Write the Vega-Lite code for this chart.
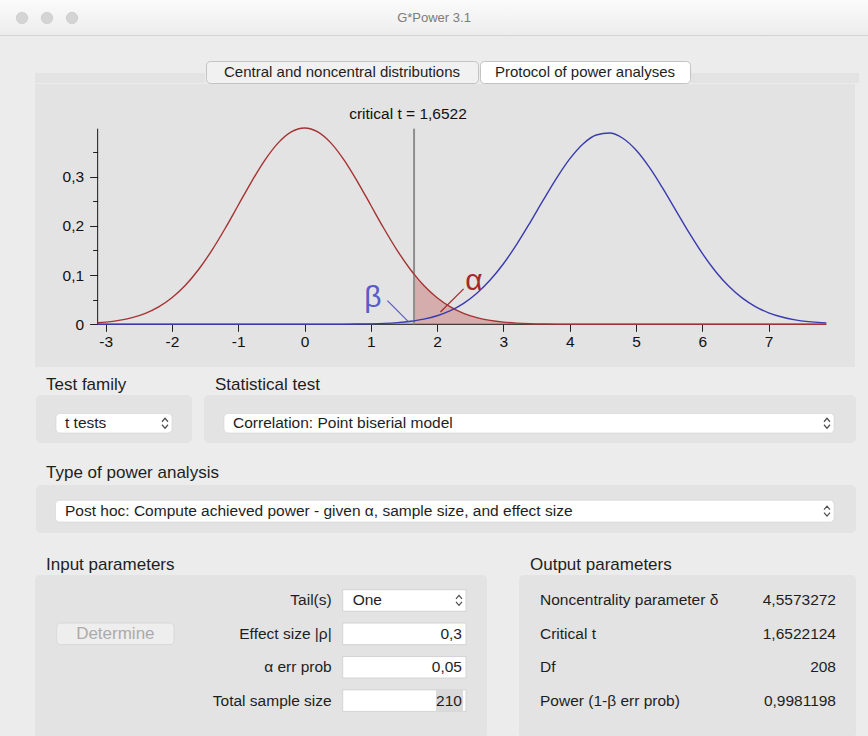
{
  "$schema": "https://vega.github.io/schema/vega-lite/v6.json",
  "background": "#ececec",
  "padding": 0,
  "spacing": 0,
  "config": {
    "view": {"stroke": null},
    "concat": {"spacing": 0},
    "font": "Liberation Sans",
    "text": {"font": "Liberation Sans"}
  },
  "datasets": {
    "curve": [
      {"x": -3.12, "h0": 0.00307, "h1": 0},
      {"x": -3.0, "h0": 0.00443, "h1": 0},
      {"x": -2.8, "h0": 0.00792, "h1": 0},
      {"x": -2.6, "h0": 0.01358, "h1": 0},
      {"x": -2.4, "h0": 0.02239, "h1": 0},
      {"x": -2.2, "h0": 0.03547, "h1": 0},
      {"x": -2.0, "h0": 0.05399, "h1": 0},
      {"x": -1.8, "h0": 0.07895, "h1": 0},
      {"x": -1.6, "h0": 0.11092, "h1": 0},
      {"x": -1.4, "h0": 0.14973, "h1": 0},
      {"x": -1.2, "h0": 0.19419, "h1": 0},
      {"x": -1.0, "h0": 0.24197, "h1": 0},
      {"x": -0.8, "h0": 0.28969, "h1": 0},
      {"x": -0.6, "h0": 0.33322, "h1": 0},
      {"x": -0.4, "h0": 0.36827, "h1": 0},
      {"x": -0.2, "h0": 0.39104, "h1": 0},
      {"x": 0.0, "h0": 0.39894, "h1": 0.00002},
      {"x": 0.2, "h0": 0.39104, "h1": 0.00005},
      {"x": 0.4, "h0": 0.36827, "h1": 0.00011},
      {"x": 0.6, "h0": 0.33322, "h1": 0.00024},
      {"x": 0.8, "h0": 0.28969, "h1": 0.00047},
      {"x": 1.0, "h0": 0.24197, "h1": 0.00095},
      {"x": 1.2, "h0": 0.19419, "h1": 0.00184},
      {"x": 1.4, "h0": 0.14973, "h1": 0.00341},
      {"x": 1.6, "h0": 0.11092, "h1": 0.0061},
      {"x": 1.6522, "h0": 0.1019, "h1": 0.00706},
      {"x": 1.8, "h0": 0.07895, "h1": 0.01051},
      {"x": 2.0, "h0": 0.05399, "h1": 0.01742},
      {"x": 2.2, "h0": 0.03547, "h1": 0.02777},
      {"x": 2.4, "h0": 0.02239, "h1": 0.04268},
      {"x": 2.6, "h0": 0.01358, "h1": 0.06313},
      {"x": 2.8, "h0": 0.00792, "h1": 0.08987},
      {"x": 3.0, "h0": 0.00443, "h1": 0.1231},
      {"x": 3.2, "h0": 0.00238, "h1": 0.1624},
      {"x": 3.4, "h0": 0.00123, "h1": 0.2063},
      {"x": 3.6, "h0": 0.00061, "h1": 0.2522},
      {"x": 3.8, "h0": 0.00029, "h1": 0.2967},
      {"x": 4.0, "h0": 0.00013, "h1": 0.3361},
      {"x": 4.2, "h0": 0.00006, "h1": 0.3666},
      {"x": 4.4, "h0": 0.00002, "h1": 0.3848},
      {"x": 4.6, "h0": 0, "h1": 0.3888},
      {"x": 4.8, "h0": 0, "h1": 0.3782},
      {"x": 5.0, "h0": 0, "h1": 0.3542},
      {"x": 5.2, "h0": 0, "h1": 0.3193},
      {"x": 5.4, "h0": 0, "h1": 0.2771},
      {"x": 5.6, "h0": 0, "h1": 0.2315},
      {"x": 5.8, "h0": 0, "h1": 0.1861},
      {"x": 6.0, "h0": 0, "h1": 0.1441},
      {"x": 6.2, "h0": 0, "h1": 0.1074},
      {"x": 6.4, "h0": 0, "h1": 0.0772},
      {"x": 6.6, "h0": 0, "h1": 0.0536},
      {"x": 6.8, "h0": 0, "h1": 0.036},
      {"x": 7.0, "h0": 0, "h1": 0.0234},
      {"x": 7.2, "h0": 0, "h1": 0.0148},
      {"x": 7.4, "h0": 0, "h1": 0.0091},
      {"x": 7.6, "h0": 0, "h1": 0.0055},
      {"x": 7.8, "h0": 0, "h1": 0.0033},
      {"x": 7.87, "h0": 0, "h1": 0.0028}
    ],
    "axes": [
      {"x": -3.12, "x2": 7.87, "y": 0, "y2": 0},
      {"x": -3.12, "x2": -3.12, "y": 0, "y2": 0.3976}
    ],
    "crit": [{"x": 1.6522, "y": 0, "y2": 0.3976}],
    "critLabel": [{"x": 1.561, "y": 0.4274, "label": "critical t = 1,6522"}],
    "leaders": [
      {"k": "alpha", "x": 2.05, "y": 0.025, "x2": 2.4, "y2": 0.072},
      {"k": "beta", "x": 1.25, "y": 0.048, "x2": 1.57, "y2": 0.005}
    ],
    "greek": [
      {"k": "alpha", "x": 2.557, "y": 0.088, "t": "α"},
      {"k": "beta", "x": 1.033, "y": 0.0535, "t": "β"}
    ],
    "inputs": [
      {"row": "Tail(s)", "val": "One"},
      {"row": "Effect size |ρ|", "val": "0,3"},
      {"row": "α err prob", "val": "0,05"},
      {"row": "Total sample size", "val": "210"}
    ],
    "outputs": [
      {"row": "Noncentrality parameter δ", "val": "4,5573272"},
      {"row": "Critical t", "val": "1,6522124"},
      {"row": "Df", "val": "208"},
      {"row": "Power (1-β err prob)", "val": "0,9981198"}
    ]
  },
  "vconcat": [
    {
      "width": 868,
      "height": 36,
      "view": {"stroke": null, "fill": {"gradient": "linear", "x1": 0, "y1": 0, "x2": 0, "y2": 1, "stops": [{"offset": 0, "color": "#fbfbfb"}, {"offset": 0.965, "color": "#ededed"}, {"offset": 0.97, "color": "#d2d2d2"}, {"offset": 1, "color": "#d2d2d2"}]}},
      "layer": [
        {
          "data": {"values": [{"title": "G*Power 3.1"}]},
          "mark": {"type": "text", "fontSize": 13, "color": "#7b7b7b"},
          "encoding": {"text": {"field": "title"}}
        },
        {
          "data": {"values": [{"n": 1}, {"n": 2}, {"n": 3}]},
          "mark": {"type": "point", "shape": "circle", "filled": true, "size": 133, "color": "#d4d4d4", "opacity": 1, "stroke": "#c6c6c6", "strokeWidth": 0.6},
          "encoding": {"x": {"field": "n", "type": "quantitative", "scale": {"domain": [0.12, 34.84], "nice": false, "zero": false}, "axis": null}}
        }
      ]
    },
    {"width": 868, "height": 24, "data": {"values": [{}]}, "mark": "text", "encoding": {"text": {"value": ""}}},
    {
      "hconcat": [
        {"width": 35, "height": 22, "data": {"values": [{}]}, "mark": "text", "encoding": {"text": {"value": ""}}},
        {"width": 170, "height": 22, "view": {"stroke": null, "fill": {"gradient": "linear", "x1": 0, "y1": 0, "x2": 0, "y2": 1, "stops": [{"offset": 0, "color": "#ececec"}, {"offset": 0.545, "color": "#ececec"}, {"offset": 0.546, "color": "#e3e3e3"}, {"offset": 1, "color": "#e3e3e3"}]}}, "data": {"values": [{}]}, "mark": "text", "encoding": {"text": {"value": ""}}},
        {
          "width": 272, "height": 22,
          "view": {"fill": "#f1f1f1", "stroke": "#c3c3c3", "cornerRadius": 4},
          "data": {"values": [{"tab": "Central and noncentral distributions"}]},
          "mark": {"type": "text", "fontSize": 15, "color": "#1e1e1e"},
          "encoding": {"text": {"field": "tab"}}
        },
        {
          "width": 210, "height": 22,
          "view": {"fill": "#ffffff", "stroke": "#c3c3c3", "cornerRadius": 4},
          "data": {"values": [{"tab": "Protocol of power analyses"}]},
          "mark": {"type": "text", "fontSize": 15, "color": "#1e1e1e"},
          "encoding": {"text": {"field": "tab"}}
        },
        {"width": 168, "height": 22, "view": {"stroke": null, "fill": {"gradient": "linear", "x1": 0, "y1": 0, "x2": 0, "y2": 1, "stops": [{"offset": 0, "color": "#ececec"}, {"offset": 0.545, "color": "#ececec"}, {"offset": 0.546, "color": "#e3e3e3"}, {"offset": 1, "color": "#e3e3e3"}]}}, "data": {"values": [{}]}, "mark": "text", "encoding": {"text": {"value": ""}}},
        {"width": 13, "height": 22, "data": {"values": [{}]}, "mark": "text", "encoding": {"text": {"value": ""}}}
      ]
    },
    {
      "hconcat": [
        {"width": 35, "height": 283, "data": {"values": [{}]}, "mark": "text", "encoding": {"text": {"value": ""}}},
        {
          "width": 820,
          "height": 283,
          "view": {"fill": "#e3e3e3", "stroke": null},
          "layer": [
            {
              "data": {"name": "curve"},
              "transform": [{"filter": "datum.x <= 1.6522"}],
              "mark": {"type": "area", "interpolate": "monotone", "color": "#c4c4e6"},
              "encoding": {
                "x": {"field": "x", "type": "quantitative", "scale": {"domain": [-4.065, 8.303], "nice": false, "zero": false},
                  "axis": {"title": null, "domain": false, "grid": false, "offset": -42.7,
                    "values": [-3, -2.5, -2, -1.5, -1, -0.5, 0, 0.5, 1, 1.5, 2, 2.5, 3, 3.5, 4, 4.5, 5, 5.5, 6, 6.5, 7, 7.5],
                    "tickColor": "#222222", "tickWidth": 1,
                    "tickSize": {"condition": {"test": "datum.value % 1 === 0", "value": 7}, "value": 4},
                    "labelExpr": "datum.value % 1 === 0 ? '' + datum.value : ''",
                    "labelFont": "Liberation Sans", "labelFontSize": 15.5, "labelColor": "#111111", "labelPadding": 3, "labelOverlap": false, "labelFlush": false}},
                "y": {"field": "h1", "type": "quantitative", "scale": {"domain": [-0.08679, 0.48841], "nice": false, "zero": false},
                  "axis": {"title": null, "domain": false, "grid": false, "offset": -62.6,
                    "values": [0, 0.05, 0.1, 0.15, 0.2, 0.25, 0.3, 0.35],
                    "tickColor": "#222222", "tickWidth": 1,
                    "tickSize": {"condition": {"test": "round(datum.value * 100) % 10 === 0", "value": 8}, "value": 5},
                    "labelExpr": "datum.value === 0 ? '0' : (round(datum.value * 100) % 10 === 0 ? replace(format(datum.value, '.1f'), '.', ',') : '')",
                    "labelFont": "Liberation Sans", "labelFontSize": 15.5, "labelColor": "#111111", "labelPadding": 6, "labelOverlap": false, "labelFlush": false}},
                "y2": {"datum": 0}
              }
            },
            {
              "data": {"name": "curve"},
              "transform": [{"filter": "datum.x >= 1.6522"}],
              "mark": {"type": "area", "interpolate": "monotone", "color": "#d6adad"},
              "encoding": {
                "x": {"field": "x", "type": "quantitative", "scale": {"domain": [-4.065, 8.303], "nice": false, "zero": false}},
                "y": {"field": "h0", "type": "quantitative", "scale": {"domain": [-0.08679, 0.48841], "nice": false, "zero": false}},
                "y2": {"datum": 0}
              }
            },
            {
              "data": {"name": "axes"},
              "mark": {"type": "rule", "color": "#1a1a1a", "strokeWidth": 1},
              "encoding": {
                "x": {"field": "x", "type": "quantitative", "scale": {"domain": [-4.065, 8.303], "nice": false, "zero": false}},
                "x2": {"field": "x2"},
                "y": {"field": "y", "type": "quantitative", "scale": {"domain": [-0.08679, 0.48841], "nice": false, "zero": false}},
                "y2": {"field": "y2"}
              }
            },
            {
              "data": {"name": "crit"},
              "mark": {"type": "rule", "color": "#8e8e8e", "strokeWidth": 2},
              "encoding": {
                "x": {"field": "x", "type": "quantitative", "scale": {"domain": [-4.065, 8.303], "nice": false, "zero": false}},
                "y": {"field": "y", "type": "quantitative", "scale": {"domain": [-0.08679, 0.48841], "nice": false, "zero": false}},
                "y2": {"field": "y2"}
              }
            },
            {
              "data": {"name": "curve"},
              "mark": {"type": "line", "interpolate": "monotone", "color": "#a63333", "strokeWidth": 1.4},
              "encoding": {
                "x": {"field": "x", "type": "quantitative", "scale": {"domain": [-4.065, 8.303], "nice": false, "zero": false}},
                "y": {"field": "h0", "type": "quantitative", "scale": {"domain": [-0.08679, 0.48841], "nice": false, "zero": false}}
              }
            },
            {
              "data": {"name": "curve"},
              "mark": {"type": "line", "interpolate": "monotone", "color": "#3a3ab0", "strokeWidth": 1.4},
              "encoding": {
                "x": {"field": "x", "type": "quantitative", "scale": {"domain": [-4.065, 8.303], "nice": false, "zero": false}},
                "y": {"field": "h1", "type": "quantitative", "scale": {"domain": [-0.08679, 0.48841], "nice": false, "zero": false}}
              }
            },
            {
              "data": {"name": "leaders"},
              "mark": {"type": "rule", "strokeWidth": 1.2},
              "encoding": {
                "x": {"field": "x", "type": "quantitative", "scale": {"domain": [-4.065, 8.303], "nice": false, "zero": false}},
                "x2": {"field": "x2"},
                "y": {"field": "y", "type": "quantitative", "scale": {"domain": [-0.08679, 0.48841], "nice": false, "zero": false}},
                "y2": {"field": "y2"},
                "color": {"field": "k", "type": "nominal", "scale": {"domain": ["alpha", "beta"], "range": ["#a82828", "#5a5ac8"]}, "legend": null}
              }
            },
            {
              "data": {"name": "critLabel"},
              "mark": {"type": "text", "fontSize": 15.5, "color": "#111111"},
              "encoding": {
                "x": {"field": "x", "type": "quantitative", "scale": {"domain": [-4.065, 8.303], "nice": false, "zero": false}},
                "y": {"field": "y", "type": "quantitative", "scale": {"domain": [-0.08679, 0.48841], "nice": false, "zero": false}},
                "text": {"field": "label"}
              }
            },
            {
              "data": {"name": "greek"},
              "mark": {"type": "text", "fontSize": 30},
              "encoding": {
                "x": {"field": "x", "type": "quantitative", "scale": {"domain": [-4.065, 8.303], "nice": false, "zero": false}},
                "y": {"field": "y", "type": "quantitative", "scale": {"domain": [-0.08679, 0.48841], "nice": false, "zero": false}},
                "text": {"field": "t"},
                "color": {"field": "k", "type": "nominal", "scale": {"domain": ["alpha", "beta"], "range": ["#a82828", "#5a5ac8"]}, "legend": null}
              }
            }
          ]
        },
        {"width": 13, "height": 283, "data": {"values": [{}]}, "mark": "text", "encoding": {"text": {"value": ""}}}
      ]
    },
    {
      "hconcat": [
        {"width": 46, "height": 28, "data": {"values": [{}]}, "mark": "text", "encoding": {"text": {"value": ""}}},
        {"width": 169, "height": 28, "data": {"values": [{"t": "Test family"}]}, "mark": {"type": "text", "align": "left", "dy": 4, "fontSize": 17, "color": "#1e1e1e"},
         "encoding": {"x": {"datum": "a", "type": "nominal", "bandPosition": 0, "axis": null, "scale": {"type": "band", "paddingInner": 0, "paddingOuter": 0}}, "text": {"field": "t"}}},
        {"width": 653, "height": 28, "data": {"values": [{"t": "Statistical test"}]}, "mark": {"type": "text", "align": "left", "dy": 4, "fontSize": 17, "color": "#1e1e1e"},
         "encoding": {"x": {"datum": "a", "type": "nominal", "bandPosition": 0, "axis": null, "scale": {"type": "band", "paddingInner": 0, "paddingOuter": 0}}, "text": {"field": "t"}}}
      ]
    },
    {
      "hconcat": [
        {"width": 36, "height": 48, "data": {"values": [{}]}, "mark": "text", "encoding": {"text": {"value": ""}}},
        {
          "width": 156, "height": 48,
          "view": {"fill": "#e3e3e3", "stroke": null, "cornerRadius": 5},
          "data": {"values": [{"label": "t tests"}]},
          "layer": [
            {"mark": {"type": "rect", "fill": "#ffffff", "cornerRadius": 4, "stroke": "#cdcdcd", "strokeWidth": 0.5},
             "encoding": {"x": {"datum": "dd", "type": "nominal", "axis": null, "scale": {"type": "band", "paddingInner": 0, "paddingOuter": 0.1724, "align": 0.5}},
                          "y": {"datum": "dd", "type": "nominal", "axis": null, "scale": {"type": "band", "paddingInner": 0, "paddingOuter": 0.7308, "align": 0.649}}}},
            {"mark": {"type": "text", "align": "left", "dx": 9, "fontSize": 15.5, "color": "#1e1e1e"},
             "encoding": {"x": {"datum": "dd", "type": "nominal", "axis": null, "bandPosition": 0, "scale": {"type": "band", "paddingInner": 0, "paddingOuter": 0.1724, "align": 0.5}},
                          "y": {"datum": "dd", "type": "nominal", "axis": null, "scale": {"type": "band", "paddingInner": 0, "paddingOuter": 0.7308, "align": 0.649}},
                          "text": {"field": "label"}}},
            {"mark": {"type": "point", "shape": "M-10,-1.5L-7,-5L-4,-1.5M-10,1.5L-7,5L-4,1.5", "size": 4, "filled": false, "color": "#4d4d4d", "strokeWidth": 1.2, "opacity": 1},
             "encoding": {"x": {"datum": "dd", "type": "nominal", "axis": null, "bandPosition": 1, "scale": {"type": "band", "paddingInner": 0, "paddingOuter": 0.1724, "align": 0.5}},
                          "y": {"datum": "dd", "type": "nominal", "axis": null, "scale": {"type": "band", "paddingInner": 0, "paddingOuter": 0.7308, "align": 0.649}}}}
          ]
        },
        {"width": 12, "height": 48, "data": {"values": [{}]}, "mark": "text", "encoding": {"text": {"value": ""}}},
        {
          "width": 652, "height": 48,
          "view": {"fill": "#e3e3e3", "stroke": null, "cornerRadius": 5},
          "data": {"values": [{"label": "Correlation: Point biserial model"}]},
          "layer": [
            {"mark": {"type": "rect", "fill": "#ffffff", "cornerRadius": 4, "stroke": "#cdcdcd", "strokeWidth": 0.5},
             "encoding": {"x": {"datum": "dd", "type": "nominal", "axis": null, "scale": {"type": "band", "paddingInner": 0, "paddingOuter": 0.03443, "align": 0.4762}},
                          "y": {"datum": "dd", "type": "nominal", "axis": null, "scale": {"type": "band", "paddingInner": 0, "paddingOuter": 0.7308, "align": 0.649}}}},
            {"mark": {"type": "text", "align": "left", "dx": 9, "fontSize": 15.5, "color": "#1e1e1e"},
             "encoding": {"x": {"datum": "dd", "type": "nominal", "axis": null, "bandPosition": 0, "scale": {"type": "band", "paddingInner": 0, "paddingOuter": 0.03443, "align": 0.4762}},
                          "y": {"datum": "dd", "type": "nominal", "axis": null, "scale": {"type": "band", "paddingInner": 0, "paddingOuter": 0.7308, "align": 0.649}},
                          "text": {"field": "label"}}},
            {"mark": {"type": "point", "shape": "M-10,-1.5L-7,-5L-4,-1.5M-10,1.5L-7,5L-4,1.5", "size": 4, "filled": false, "color": "#4d4d4d", "strokeWidth": 1.2, "opacity": 1},
             "encoding": {"x": {"datum": "dd", "type": "nominal", "axis": null, "bandPosition": 1, "scale": {"type": "band", "paddingInner": 0, "paddingOuter": 0.03443, "align": 0.4762}},
                          "y": {"datum": "dd", "type": "nominal", "axis": null, "scale": {"type": "band", "paddingInner": 0, "paddingOuter": 0.7308, "align": 0.649}}}}
          ]
        },
        {"width": 12, "height": 48, "data": {"values": [{}]}, "mark": "text", "encoding": {"text": {"value": ""}}}
      ]
    },
    {
      "hconcat": [
        {"width": 46, "height": 42, "data": {"values": [{}]}, "mark": "text", "encoding": {"text": {"value": ""}}},
        {"width": 822, "height": 42, "data": {"values": [{"t": "Type of power analysis"}]}, "mark": {"type": "text", "align": "left", "dy": 9, "fontSize": 17, "color": "#1e1e1e"},
         "encoding": {"x": {"datum": "a", "type": "nominal", "bandPosition": 0, "axis": null, "scale": {"type": "band", "paddingInner": 0, "paddingOuter": 0}}, "text": {"field": "t"}}}
      ]
    },
    {
      "hconcat": [
        {"width": 36, "height": 48, "data": {"values": [{}]}, "mark": "text", "encoding": {"text": {"value": ""}}},
        {
          "width": 820, "height": 48,
          "view": {"fill": "#e3e3e3", "stroke": null, "cornerRadius": 5},
          "data": {"values": [{"label": "Post hoc: Compute achieved power - given α, sample size, and effect size"}]},
          "layer": [
            {"mark": {"type": "rect", "fill": "#ffffff", "cornerRadius": 4, "stroke": "#cdcdcd", "strokeWidth": 0.5},
             "encoding": {"x": {"datum": "dd", "type": "nominal", "axis": null, "scale": {"type": "band", "paddingInner": 0, "paddingOuter": 0.02665, "align": 0.4699}},
                          "y": {"datum": "dd", "type": "nominal", "axis": null, "scale": {"type": "band", "paddingInner": 0, "paddingOuter": 0.606, "align": 0.5817}}}},
            {"mark": {"type": "text", "align": "left", "dx": 9.5, "fontSize": 15.5, "color": "#1e1e1e"},
             "encoding": {"x": {"datum": "dd", "type": "nominal", "axis": null, "bandPosition": 0, "scale": {"type": "band", "paddingInner": 0, "paddingOuter": 0.02665, "align": 0.4699}},
                          "y": {"datum": "dd", "type": "nominal", "axis": null, "scale": {"type": "band", "paddingInner": 0, "paddingOuter": 0.606, "align": 0.5817}},
                          "text": {"field": "label"}}},
            {"mark": {"type": "point", "shape": "M-10,-1.5L-7,-5L-4,-1.5M-10,1.5L-7,5L-4,1.5", "size": 4, "filled": false, "color": "#4d4d4d", "strokeWidth": 1.2, "opacity": 1},
             "encoding": {"x": {"datum": "dd", "type": "nominal", "axis": null, "bandPosition": 1, "scale": {"type": "band", "paddingInner": 0, "paddingOuter": 0.02665, "align": 0.4699}},
                          "y": {"datum": "dd", "type": "nominal", "axis": null, "scale": {"type": "band", "paddingInner": 0, "paddingOuter": 0.606, "align": 0.5817}}}}
          ]
        },
        {"width": 12, "height": 48, "data": {"values": [{}]}, "mark": "text", "encoding": {"text": {"value": ""}}}
      ]
    },
    {
      "hconcat": [
        {"width": 46, "height": 42, "data": {"values": [{}]}, "mark": "text", "encoding": {"text": {"value": ""}}},
        {"width": 484, "height": 42, "data": {"values": [{"t": "Input parameters"}]}, "mark": {"type": "text", "align": "left", "dy": 10.5, "fontSize": 17, "color": "#1e1e1e"},
         "encoding": {"x": {"datum": "a", "type": "nominal", "bandPosition": 0, "axis": null, "scale": {"type": "band", "paddingInner": 0, "paddingOuter": 0}}, "text": {"field": "t"}}},
        {"width": 338, "height": 42, "data": {"values": [{"t": "Output parameters"}]}, "mark": {"type": "text", "align": "left", "dy": 10.5, "fontSize": 17, "color": "#1e1e1e"},
         "encoding": {"x": {"datum": "a", "type": "nominal", "bandPosition": 0, "axis": null, "scale": {"type": "band", "paddingInner": 0, "paddingOuter": 0}}, "text": {"field": "t"}}}
      ]
    },
    {
      "hconcat": [
        {"width": 35, "height": 163, "data": {"values": [{}]}, "mark": "text", "encoding": {"text": {"value": ""}}},
        {
          "width": 452, "height": 163,
          "view": {"fill": "#e3e3e3", "stroke": null, "cornerRadius": 5},
          "data": {"name": "inputs"},
          "resolve": {"scale": {"x": "independent"}},
          "layer": [
            {"transform": [{"filter": "datum.row === 'Effect size |ρ|'"}],
             "mark": {"type": "rect", "fill": "#eeeeee", "cornerRadius": 4, "stroke": "#d2d2d2", "strokeWidth": 0.7},
             "encoding": {"x": {"datum": "btn", "type": "nominal", "axis": null, "scale": {"type": "band", "paddingInner": 0.2991, "paddingOuter": 1, "align": 0.0648}},
                          "y": {"field": "row", "type": "nominal", "axis": null, "scale": {"type": "band", "domain": ["Tail(s)", "Effect size |ρ|", "α err prob", "Total sample size"], "paddingInner": 0.356, "paddingOuter": 0.618, "align": 0.356}}}},
            {"transform": [{"filter": "datum.row === 'Effect size |ρ|'"}],
             "mark": {"type": "text", "fontSize": 17, "color": "#ababab"},
             "encoding": {"x": {"datum": "btn", "type": "nominal", "axis": null, "scale": {"type": "band", "paddingInner": 0.2991, "paddingOuter": 1, "align": 0.0648}},
                          "y": {"field": "row", "type": "nominal", "axis": null, "scale": {"type": "band", "domain": ["Tail(s)", "Effect size |ρ|", "α err prob", "Total sample size"], "paddingInner": 0.356, "paddingOuter": 0.618, "align": 0.356}},
                          "text": {"value": "Determine"}}},
            {"mark": {"type": "rect", "fill": "#ffffff", "stroke": "#c9c9c9", "strokeWidth": 0.7},
             "encoding": {"x": {"datum": "f", "type": "nominal", "axis": null, "scale": {"type": "band", "paddingInner": 0.2497, "paddingOuter": 1, "align": 0.9361}},
                          "y": {"field": "row", "type": "nominal", "axis": null, "scale": {"type": "band", "domain": ["Tail(s)", "Effect size |ρ|", "α err prob", "Total sample size"], "paddingInner": 0.356, "paddingOuter": 0.618, "align": 0.356}}}},
            {"transform": [{"filter": "datum.row === 'Total sample size'"}],
             "mark": {"type": "rect", "fill": "#dadada"},
             "encoding": {"x": {"datum": "sel", "type": "nominal", "axis": null, "scale": {"type": "band", "paddingInner": 0.873, "paddingOuter": 1, "align": 0.9435}},
                          "y": {"field": "row", "type": "nominal", "axis": null, "scale": {"type": "band", "domain": ["Tail(s)", "Effect size |ρ|", "α err prob", "Total sample size"], "paddingInner": 0.356, "paddingOuter": 0.618, "align": 0.356}}}},
            {"mark": {"type": "text", "align": "right", "dx": -11, "fontSize": 15.5, "color": "#1e1e1e"},
             "encoding": {"x": {"datum": "f", "type": "nominal", "axis": null, "bandPosition": 0, "scale": {"type": "band", "paddingInner": 0.2497, "paddingOuter": 1, "align": 0.9361}},
                          "y": {"field": "row", "type": "nominal", "axis": null, "scale": {"type": "band", "domain": ["Tail(s)", "Effect size |ρ|", "α err prob", "Total sample size"], "paddingInner": 0.356, "paddingOuter": 0.618, "align": 0.356}},
                          "text": {"field": "row"}}},
            {"transform": [{"filter": "datum.row !== 'Tail(s)'"}],
             "mark": {"type": "text", "align": "right", "dx": -4, "fontSize": 15.5, "color": "#1e1e1e"},
             "encoding": {"x": {"datum": "f", "type": "nominal", "axis": null, "bandPosition": 1, "scale": {"type": "band", "paddingInner": 0.2497, "paddingOuter": 1, "align": 0.9361}},
                          "y": {"field": "row", "type": "nominal", "axis": null, "scale": {"type": "band", "domain": ["Tail(s)", "Effect size |ρ|", "α err prob", "Total sample size"], "paddingInner": 0.356, "paddingOuter": 0.618, "align": 0.356}},
                          "text": {"field": "val"}}},
            {"transform": [{"filter": "datum.row === 'Tail(s)'"}],
             "mark": {"type": "text", "align": "left", "dx": 10, "fontSize": 15.5, "color": "#1e1e1e"},
             "encoding": {"x": {"datum": "f", "type": "nominal", "axis": null, "bandPosition": 0, "scale": {"type": "band", "paddingInner": 0.2497, "paddingOuter": 1, "align": 0.9361}},
                          "y": {"field": "row", "type": "nominal", "axis": null, "scale": {"type": "band", "domain": ["Tail(s)", "Effect size |ρ|", "α err prob", "Total sample size"], "paddingInner": 0.356, "paddingOuter": 0.618, "align": 0.356}},
                          "text": {"field": "val"}}},
            {"transform": [{"filter": "datum.row === 'Tail(s)'"}],
             "mark": {"type": "point", "shape": "M-10,-1.5L-7,-5L-4,-1.5M-10,1.5L-7,5L-4,1.5", "size": 4, "filled": false, "color": "#4d4d4d", "strokeWidth": 1.2, "opacity": 1},
             "encoding": {"x": {"datum": "f", "type": "nominal", "axis": null, "bandPosition": 1, "scale": {"type": "band", "paddingInner": 0.2497, "paddingOuter": 1, "align": 0.9361}},
                          "y": {"field": "row", "type": "nominal", "axis": null, "scale": {"type": "band", "domain": ["Tail(s)", "Effect size |ρ|", "α err prob", "Total sample size"], "paddingInner": 0.356, "paddingOuter": 0.618, "align": 0.356}}}}
          ]
        },
        {"width": 32, "height": 163, "data": {"values": [{}]}, "mark": "text", "encoding": {"text": {"value": ""}}},
        {
          "width": 337, "height": 163,
          "view": {"fill": "#e3e3e3", "stroke": null, "cornerRadius": 5},
          "data": {"name": "outputs"},
          "layer": [
            {"mark": {"type": "text", "align": "left", "dx": 21, "fontSize": 15.5, "color": "#1e1e1e"},
             "encoding": {"x": {"datum": "c", "type": "nominal", "axis": null, "bandPosition": 0, "scale": {"type": "band", "paddingInner": 0, "paddingOuter": 0}},
                          "y": {"field": "row", "type": "nominal", "axis": null, "scale": {"type": "band", "domain": ["Noncentrality parameter δ", "Critical t", "Df", "Power (1-β err prob)"], "paddingInner": 0.356, "paddingOuter": 0.618, "align": 0.356}},
                          "text": {"field": "row"}}},
            {"mark": {"type": "text", "align": "right", "dx": -20, "fontSize": 15.5, "color": "#1e1e1e"},
             "encoding": {"x": {"datum": "c", "type": "nominal", "axis": null, "bandPosition": 1, "scale": {"type": "band", "paddingInner": 0, "paddingOuter": 0}},
                          "y": {"field": "row", "type": "nominal", "axis": null, "scale": {"type": "band", "domain": ["Noncentrality parameter δ", "Critical t", "Df", "Power (1-β err prob)"], "paddingInner": 0.356, "paddingOuter": 0.618, "align": 0.356}},
                          "text": {"field": "val"}}}
          ]
        },
        {"width": 12, "height": 163, "data": {"values": [{}]}, "mark": "text", "encoding": {"text": {"value": ""}}}
      ]
    }
  ]
}
